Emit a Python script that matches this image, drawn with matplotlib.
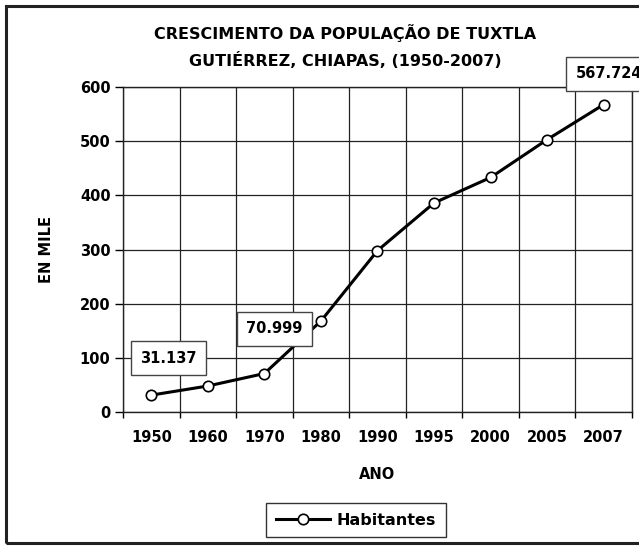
import numpy as np
import matplotlib.pyplot as plt
from matplotlib.patches import Rectangle

# Dados: população de Tuxtla Gutiérrez (em milhares)
anos = ['1950', '1960', '1970', '1980', '1990', '1995', '2000', '2005', '2007']
habitantes = [31.137, 48, 70.999, 168, 298, 386, 433, 503, 567.724]
rotulos = {0: '31.137', 2: '70.999', 8: '567.724'}
y_ticks = [0, 100, 200, 300, 400, 500, 600]

plt.rcParams['font.family'] = 'DejaVu Sans'
plt.rcParams['font.weight'] = 'bold'

fig = plt.figure(figsize=(6.39, 5.51), dpi=100)
ax = fig.add_axes([0.1925, 0.2523, 0.7965, 0.5897])

x = np.arange(len(anos))
ax.plot(x, habitantes, color='black', lw=2.2, marker='o', ms=7.5,
        mfc='white', mec='black', mew=1.2, label='Habitantes', zorder=3)

ax.set_xlim(-0.5, len(anos) - 0.5)
ax.set_ylim(0, 600)

# rótulos das categorias no centro, grade nas divisões
ax.set_xticks(x)
ax.set_xticklabels(anos, fontsize=10.5, fontweight='bold')
ax.tick_params(axis='x', which='major', length=0, pad=13)
ax.set_xticks(np.arange(len(anos) + 1) - 0.5, minor=True)
ax.tick_params(axis='x', which='minor', length=4, width=1, direction='out')
ax.set_yticks(y_ticks)
ax.set_yticklabels([str(v) for v in y_ticks], fontsize=10.5, fontweight='bold')
ax.tick_params(axis='y', length=6, width=1, pad=3)

ax.grid(True, which='minor', axis='x', color='#222222', lw=0.9)
ax.grid(True, which='major', axis='y', color='#222222', lw=0.9)
ax.grid(False, which='major', axis='x')
for s in ax.spines.values():
    s.set_color('#222222')
    s.set_linewidth(1.0)

ax.set_xlabel('ANO', fontsize=10.5, fontweight='bold')
ax.xaxis.set_label_coords(0.5, -0.168)
ax.set_ylabel('EN MILE', fontsize=10.5, fontweight='bold')
ax.yaxis.set_label_coords(-0.135, 0.5)

# caixas com valores
desloc = {0: (17, 37), 2: (10, 45), 8: (5, 31)}
for i, txt in rotulos.items():
    ax.annotate(txt, (x[i], habitantes[i]), xytext=desloc[i],
                textcoords='offset pixels', ha='center', va='center',
                fontsize=10.5, fontweight='bold', annotation_clip=False,
                bbox=dict(boxstyle='square,pad=0.65', fc='white',
                          ec='#444444', lw=1), zorder=5)

fig.text(0.54, 0.940, 'CRESCIMENTO DA POPULAÇÃO DE TUXTLA',
         ha='center', va='center', fontsize=11.5, fontweight='bold')
fig.text(0.54, 0.891, 'GUTIÉRREZ, CHIAPAS, (1950-2007)',
         ha='center', va='center', fontsize=11.5, fontweight='bold')

leg = fig.legend(loc='center', bbox_to_anchor=(0.557, 0.056), fontsize=11.5,
                 fancybox=False, edgecolor='#333333', handlelength=3.4,
                 handletextpad=0.4, borderpad=0.6, framealpha=1)
leg.get_frame().set_linewidth(1.0)

# moldura da área do gráfico
fig.patches.append(Rectangle((0.009, 0.014), 1.2, 0.975, transform=fig.transFigure,
                             fill=False, ec='#222222', lw=2.2, zorder=0))

fig.savefig('out.png', dpi=100, facecolor='white')
